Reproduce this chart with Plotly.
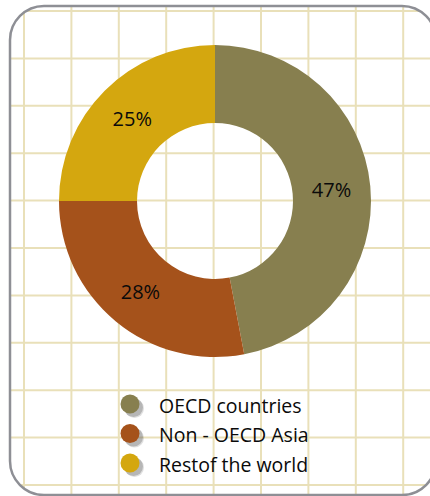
import math
import plotly.graph_objects as go

# data
labels = ["OECD countries", "Non - OECD Asia", "Restof the world"]
values = [47, 28, 25]
colors = ["#877f4f", "#a5521b", "#d4a70f"]

W, H = 430, 496

def px_x(x):
    return x / W

def px_y(y):
    return 1 - y / H

fig = go.Figure()

fig.add_trace(go.Pie(
    labels=labels,
    values=values,
    hole=0.5,
    sort=False,
    direction="clockwise",
    rotation=0,
    marker=dict(colors=colors, line=dict(width=0)),
    texttemplate="%{percent:.0%}",
    textposition="inside",
    insidetextorientation="horizontal",
    textfont=dict(family="Open Sans", size=20, color="#0a0a0a"),
    domain=dict(x=[px_x(215 - 156), px_x(215 + 156)],
                y=[px_y(201 + 156), px_y(201 - 156)]),
    showlegend=False,
    hoverinfo="label+percent",
))

shapes = []

# rounded frame; its right side lies outside the window, so only the
# top, left and bottom runs (with the start of the right corners) are drawn
left, top, right, bottom, rad = 10, 6, 436, 495, 34

def clip_x(y):
    # horizontal extent of the frame at height y (corners are rounded)
    dy = 0
    if y < top + rad:
        dy = top + rad - y
    elif y > bottom - rad:
        dy = y - (bottom - rad)
    off = rad - math.sqrt(max(rad * rad - dy * dy, 0))
    return left + off, right - off

def clip_y(x):
    dx = 0
    if x < left + rad:
        dx = left + rad - x
    elif x > right - rad:
        dx = x - (right - rad)
    off = rad - math.sqrt(max(rad * rad - dx * dx, 0))
    return top + off, bottom - off

grid_col = "#e9e0b9"
step = 47.4
gx = [24 + i * step for i in range(9)]
gy = [11 + i * step for i in range(11)]
for x in gx:
    y0, y1 = clip_y(x)
    shapes.append(dict(type="line", xref="paper", yref="paper", layer="below",
                       x0=px_x(x), x1=px_x(x), y0=px_y(y0), y1=px_y(y1),
                       line=dict(color=grid_col, width=2)))
for y in gy:
    x0, x1 = clip_x(y)
    shapes.append(dict(type="line", xref="paper", yref="paper", layer="below",
                       x0=px_x(x0), x1=px_x(min(x1, W)), y0=px_y(y), y1=px_y(y),
                       line=dict(color=grid_col, width=2)))

k = 0.45  # bezier handle for a round-ish corner
path = (f"M {px_x(right)},{px_y(top + rad)} "
        f"C {px_x(right)},{px_y(top + rad * k)} {px_x(right - rad * k)},{px_y(top)} {px_x(right - rad)},{px_y(top)} "
        f"L {px_x(left + rad)},{px_y(top)} "
        f"C {px_x(left + rad * k)},{px_y(top)} {px_x(left)},{px_y(top + rad * k)} {px_x(left)},{px_y(top + rad)} "
        f"L {px_x(left)},{px_y(bottom - rad)} "
        f"C {px_x(left)},{px_y(bottom - rad * k)} {px_x(left + rad * k)},{px_y(bottom)} {px_x(left + rad)},{px_y(bottom)} "
        f"L {px_x(right - rad)},{px_y(bottom)} "
        f"C {px_x(right - rad * k)},{px_y(bottom)} {px_x(right)},{px_y(bottom - rad * k)} {px_x(right)},{px_y(bottom - rad)}")
shapes.append(dict(type="path", xref="paper", yref="paper", layer="above",
                   path=path, line=dict(color="#8e8f95", width=2.5)))

# legend: dots with a soft shadow, then the names
annotations = []
leg_x, leg_y0, leg_dy, r = 130, 404, 29.5, 9.5
for i, (name, col) in enumerate(zip(labels, colors)):
    cy = leg_y0 + i * leg_dy
    for off, op in [(4.5, 0.18), (3.5, 0.3)]:
        shapes.append(dict(type="circle", xref="paper", yref="paper", layer="above",
                           x0=px_x(leg_x - r + off), x1=px_x(leg_x + r + off),
                           y0=px_y(cy + r + off), y1=px_y(cy - r + off),
                           fillcolor="#555555", opacity=op, line=dict(width=0)))
    shapes.append(dict(type="circle", xref="paper", yref="paper", layer="above",
                       x0=px_x(leg_x - r), x1=px_x(leg_x + r),
                       y0=px_y(cy + r), y1=px_y(cy - r),
                       fillcolor=col, line=dict(width=0)))
    annotations.append(dict(text=name, xref="paper", yref="paper",
                            x=px_x(157), y=px_y(cy + 1), xanchor="left", yanchor="middle",
                            showarrow=False,
                            font=dict(family="Open Sans", size=19.5, color="#0a0a0a")))

fig.update_layout(
    width=W, height=H,
    margin=dict(l=0, r=0, t=0, b=0),
    paper_bgcolor="white",
    plot_bgcolor="white",
    shapes=shapes,
    annotations=annotations,
)

# the page's default body margin would push the chart off by 8px, and the
# page must not grow scrollbars
fig.write_html("out.html", config={"displayModeBar": False},
               post_script="document.body.style.margin='0';"
                           "document.documentElement.style.overflow='hidden';")
